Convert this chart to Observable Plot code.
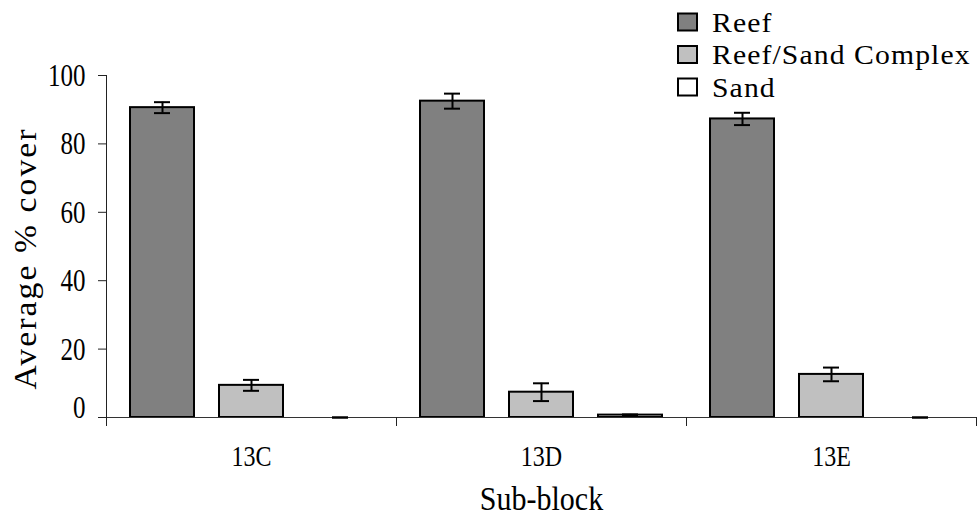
<!DOCTYPE html>
<html>
<head>
<meta charset="utf-8">
<script src="https://cdn.jsdelivr.net/npm/d3@7"></script>
<script src="https://cdn.jsdelivr.net/npm/@observablehq/plot@0.6"></script>
<style>
  body { margin: 0; background: #fff; }
  #chart { width: 978px; height: 517px; }
  #chart svg { display: block; }
</style>
</head>
<body>
<div id="chart"></div>
<script>
// Average percent cover by habitat type in each sub-block (mean ± error)
const subBlocks = ["13C", "13D", "13E"];
const habitats = ["Reef", "Reef/Sand Complex", "Sand"];
const reefCover = [90.6, 92.5, 87.3];
const reefErr = [1.6, 2.2, 1.8];
const complexCover = [9.4, 7.4, 12.6];
const complexErr = [1.6, 2.6, 2.0];
const sandCover = [0, 0.7, 0];
const sandErr = [0, 0.2, 0];
const habitatFills = ["#808080", "#c0c0c0", "#ffffff"];
const yTicks = [0, 20, 40, 60, 80, 100];

const serif = "'Liberation Serif', 'Times New Roman', serif";

const series = [
  {habitat: habitats[0], cover: reefCover, err: reefErr},
  {habitat: habitats[1], cover: complexCover, err: complexErr},
  {habitat: habitats[2], cover: sandCover, err: sandErr}
];
const rows = subBlocks.flatMap((block, i) =>
  series.map(s => ({block, habitat: s.habitat, value: s.cover[i], err: s.err[i]}))
);

const plot = Plot.plot({
  width: 978,
  height: 517,
  marginLeft: 105,
  marginRight: 1,
  marginTop: 75,
  marginBottom: 100,
  style: {fontFamily: serif, fontSize: "24px", color: "#000", background: "#fff"},
  fx: {domain: subBlocks, padding: 0},
  x: {domain: habitats, paddingInner: 0.28, paddingOuter: 0.257, axis: null},
  y: {domain: [0, 100]},
  color: {domain: habitats, range: habitatFills},
  marks: [
    Plot.axisY({ticks: yTicks, tickSize: 8, tickPadding: 13, fontSize: 25, stroke: "#222",
      label: "Average % cover", labelArrow: false, labelAnchor: "center", labelOffset: 93}),
    Plot.axisFx({anchor: "bottom", tickSize: 0, tickPadding: 28, fontSize: 24,
      label: "Sub-block", labelArrow: false, labelAnchor: "center", labelOffset: 92}),
    Plot.barY(rows.filter(d => d.value > 0), {fx: "block", x: "habitat", y: "value", fill: "habitat", stroke: "#000", strokeWidth: 2}),
    Plot.ruleY([0], {stroke: "#333", strokeWidth: 1}),
    Plot.ruleX(rows, {fx: "block", x: "habitat", y1: d => d.value - d.err, y2: d => d.value + d.err, stroke: "#000", strokeWidth: 2}),
    Plot.tickY(rows, {fx: "block", x: "habitat", y: d => d.value - d.err, insetLeft: 24, insetRight: 24, stroke: "#000", strokeWidth: 2}),
    Plot.tickY(rows, {fx: "block", x: "habitat", y: d => d.value + d.err, insetLeft: 24, insetRight: 24, stroke: "#000", strokeWidth: 2})
  ]
});

const svg = d3.select(plot);

// Stretch text in place (the chart's lettering is set tall and narrow)
function stretch(selection, sx, sy, ox = 0, oy = 0) {
  selection.each(function () {
    const t = d3.select(this);
    const xa = t.attr("x"), ya = t.attr("y");
    let tx = 0, ty = 0;
    if (xa != null && xa !== "" && !isNaN(+xa)) { tx = +xa; t.attr("x", null); }
    if (ya != null && ya !== "" && !isNaN(+ya)) { ty = +ya; t.attr("y", null); }
    const base = t.attr("transform") || "";
    t.attr("transform", `${base} translate(${tx},${ty}) translate(${ox},${oy}) scale(${sx},${sy})`);
  });
}
svg.select('g[aria-label="y-axis label"]').attr("font-size", 32).attr("letter-spacing", 2);
svg.select('g[aria-label="fx-axis label"]').attr("font-size", 30);
stretch(svg.selectAll('g[aria-label="y-axis tick label"] text'), 1, 1.3);
stretch(svg.selectAll('g[aria-label="fx-axis tick label"] text'), 1, 1.23);
stretch(svg.selectAll('g[aria-label="y-axis label"] text'), 1.05, 1, -12, 0);
stretch(svg.selectAll('g[aria-label="fx-axis label"] text'), 1, 1.1);
// the zero label sits a little above its tick
svg.selectAll('g[aria-label="y-axis tick label"] text')
  .filter(function () { return this.textContent === "0"; })
  .each(function () { const t = d3.select(this); t.attr("transform", t.attr("transform") + " translate(0,-8)"); });

// Axis line on the left and tick marks at the sub-block boundaries, from the plot's scales
const fx = plot.scale("fx");
const y = plot.scale("y");
const y0 = y.apply(0);
const edges = subBlocks.map(b => fx.apply(b)).concat([fx.apply(subBlocks[subBlocks.length - 1]) + fx.bandwidth]);
const g = svg.append("g").attr("stroke", "#222").attr("stroke-width", 1);
g.append("line").attr("x1", edges[0] + 0.5).attr("x2", edges[0] + 0.5).attr("y1", y.apply(100)).attr("y2", y0 + 9);
edges.forEach(x => g.append("line").attr("x1", Math.min(x, 977) + 0.5).attr("x2", Math.min(x, 977) + 0.5).attr("y1", y0).attr("y2", y0 + 9));

// Legend, top right
const legend = svg.append("g")
  .attr("font-family", serif).attr("font-size", 27).attr("fill", "#000")
  .attr("text-anchor", "start").attr("letter-spacing", 1);
habitats.forEach((h, i) => {
  const baseline = 31.5 + i * 32.5;
  legend.append("rect")
    .attr("x", 678).attr("y", baseline - 18).attr("width", 19).attr("height", 17)
    .attr("fill", habitatFills[i]).attr("stroke", "#000").attr("stroke-width", 2);
  legend.append("text")
    .attr("transform", `translate(712,${baseline}) scale(1.1,1)`)
    .text(h);
});

document.getElementById("chart").append(plot);
</script>
</body>
</html>
